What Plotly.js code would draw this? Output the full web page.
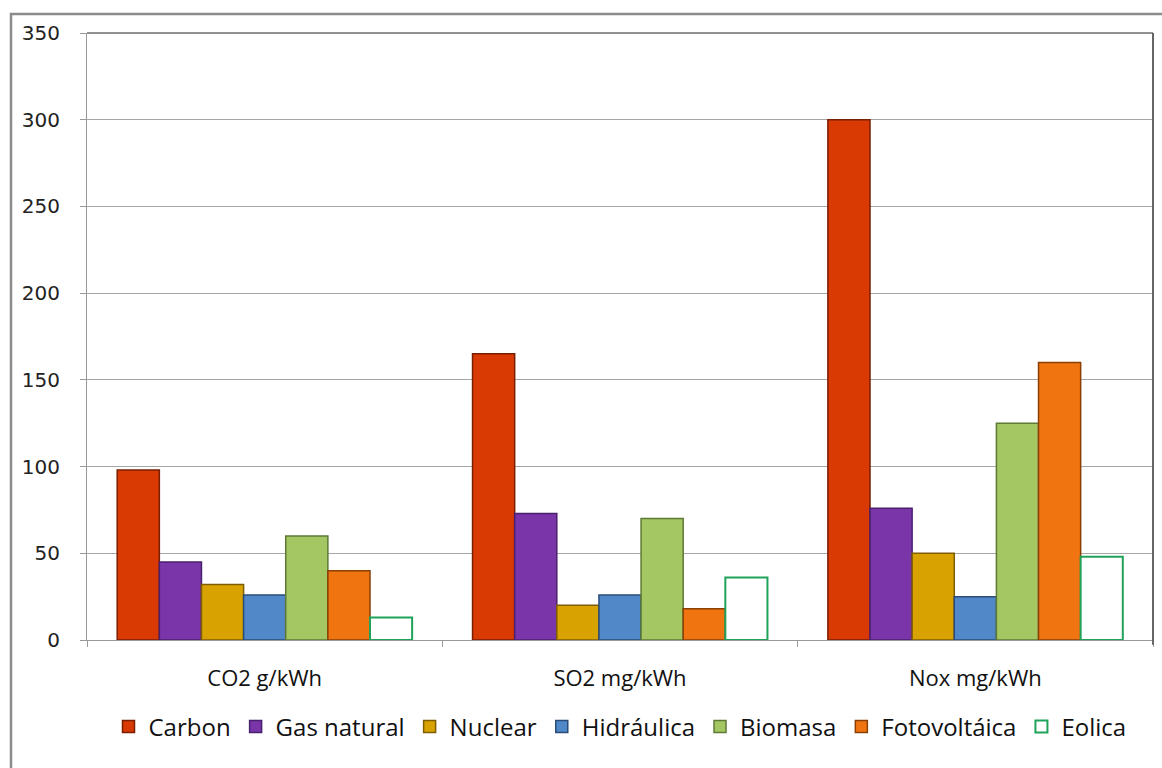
<!DOCTYPE html>
<html>
<head>
<meta charset="utf-8">
<script src="https://cdn.plot.ly/plotly-3.0.1.min.js"></script>
<style>html,body{margin:0;padding:0;background:#fff;}#chart{width:1162px;height:768px;}</style>
</head>
<body>
<div id="chart"></div>
<script>
const categories = ["CO2 g/kWh", "SO2 mg/kWh", "Nox mg/kWh"];
const carbon = [98, 165, 300];
const gasNatural = [45, 73, 76];
const nuclear = [32, 20, 50];
const hidraulica = [26, 26, 25];
const biomasa = [60, 70, 125];
const fotovoltaica = [40, 18, 160];
const eolica = [13, 36, 48];
const yTicks = [0, 50, 100, 150, 200, 250, 300, 350];

const seriesNames = ["Carbon", "Gas natural", "Nuclear", "Hidráulica", "Biomasa", "Fotovoltáica", "Eolica"];
const seriesValues = [carbon, gasNatural, nuclear, hidraulica, biomasa, fotovoltaica, eolica];
const fills = ["#D93A03", "#7A35A8", "#D8A300", "#5188C8", "#A4C663", "#F07511", "#FFFFFF"];
const edges = ["#7A1E00", "#4A2070", "#7E5E00", "#2A4C78", "#5E7A35", "#8A4005", "#1FA35A"];

const traces = seriesNames.map((n, i) => ({
  type: "bar",
  name: n,
  x: categories,
  y: seriesValues[i],
  marker: {color: fills[i], line: {color: edges[i], width: i === 6 ? 2 : 1.5}},
  hoverinfo: "x+y+name"
}));

const layout = {
  width: 1162, height: 768,
  margin: {l: 87, r: 9, t: 33, b: 128},
  paper_bgcolor: "#fff", plot_bgcolor: "#fff",
  barmode: "group", bargap: 0.17, bargroupgap: 0,
  showlegend: true,
  legend: {orientation: "h", x: 0.5, xanchor: "center", y: -0.143, yanchor: "middle",
           font: {family: "'Open Sans', sans-serif", size: 24, color: "#111"},
           itemwidth: 30, tracegroupgap: 0},
  xaxis: {type: "category", tickson: "boundaries", ticks: "outside", ticklen: 6, tickcolor: "#999",
          showline: true, linecolor: "#999", linewidth: 1, showgrid: false,
          ticklabelstandoff: 19,
          tickfont: {family: "'Open Sans', sans-serif", size: 22, color: "#111"}},
  yaxis: {range: [0, 350], tickvals: yTicks, ticks: "outside", ticklen: 6, tickcolor: "#999",
          showline: true, linecolor: "#999", linewidth: 1, zeroline: false,
          gridcolor: "#A6A6A6", gridwidth: 1, ticklabelstandoff: 16,
          tickfont: {family: "'DejaVu Sans', sans-serif", size: 20, color: "#222"}},
  shapes: [
    {type: "rect", xref: "paper", yref: "paper", x0: -0.0713, x1: 1.02, y0: -0.23, y1: 1.0313,
     line: {color: "#8C8C8C", width: 2.5}, fillcolor: "rgba(0,0,0,0)", layer: "below"},
    {type: "line", xref: "paper", yref: "paper", x0: 0, x1: 1, y0: 1, y1: 1, line: {color: "#222", width: 1.2}},
    {type: "line", xref: "paper", yref: "paper", x0: 1, x1: 1, y0: -0.008, y1: 1, line: {color: "#666", width: 2}}
  ]
};

Plotly.newPlot("chart", traces, layout, {displayModeBar: false, staticPlot: true});
</script>
</body>
</html>
